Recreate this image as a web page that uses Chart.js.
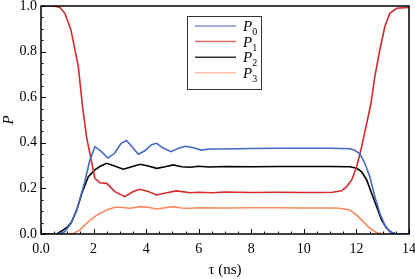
<!DOCTYPE html>
<html>
<head>
<meta charset="utf-8">
<script src="https://cdn.jsdelivr.net/npm/chart.js@4/dist/chart.umd.min.js"></script>
<style>
html,body{margin:0;padding:0;background:#fff;}
#wrap{width:415px;height:279px;}
</style>
</head>
<body>
<div id="wrap"><canvas id="c" width="415" height="279"></canvas></div>
<script>
// ---- data ----
const tP0 = [0,0.6,0.9,1.15,1.4,1.65,1.85,2.05,2.3,2.55,2.8,3.05,3.25,3.45,3.7,3.95,4.2,4.4,4.65,4.95,5.25,5.5,5.8,6.1,6.4,7,8,9,10,11,11.75,11.95,12.13,12.32,12.51,12.7,12.89,13.08,13.27,13.46,14];
const P0  = [0,0,0.01,0.048,0.12,0.222,0.32,0.383,0.361,0.333,0.354,0.398,0.41,0.385,0.35,0.365,0.392,0.398,0.377,0.361,0.377,0.385,0.378,0.368,0.373,0.373,0.375,0.376,0.376,0.376,0.374,0.366,0.352,0.31,0.251,0.164,0.091,0.039,0.01,0.002,0];
const tP1 = [0,0.5,0.72,0.91,1.14,1.42,1.58,1.74,1.9,2.05,2.24,2.5,2.81,3.19,3.51,3.77,4.08,4.4,4.78,5.16,5.67,6,6.5,7,8,9,10,10.6,11.1,11.44,11.63,11.82,12.01,12.2,12.39,12.55,12.7,12.89,13.08,13.27,13.53,14];
const P1  = [1,1,0.994,0.968,0.895,0.734,0.56,0.42,0.33,0.244,0.225,0.222,0.186,0.164,0.186,0.196,0.186,0.171,0.181,0.189,0.181,0.183,0.181,0.184,0.182,0.183,0.182,0.182,0.183,0.19,0.208,0.237,0.295,0.383,0.485,0.57,0.69,0.807,0.909,0.968,0.99,0.994];
const tP2 = [0,0.6,0.85,1.0,1.17,1.36,1.55,1.8,2.05,2.25,2.5,2.8,3.13,3.45,3.77,4.08,4.4,4.72,5.03,5.35,5.67,6,6.4,7,8,9,10,11,11.75,12.01,12.2,12.39,12.58,12.77,12.96,13.15,13.34,13.53,14];
const P2  = [0,0,0.018,0.03,0.054,0.105,0.178,0.251,0.281,0.297,0.31,0.298,0.284,0.295,0.306,0.298,0.288,0.295,0.303,0.295,0.293,0.297,0.294,0.296,0.295,0.296,0.296,0.296,0.295,0.288,0.273,0.237,0.178,0.12,0.061,0.025,0.006,0,0];
const tP3 = [0,1.1,1.25,1.48,1.8,2.12,2.5,2.81,3.0,3.39,3.77,4.08,4.4,4.72,5.03,5.35,5.67,6,7,8,9,10,11,11.37,11.75,12.01,12.26,12.51,12.77,13.0,14];
const P3  = [0,0,0.003,0.018,0.054,0.083,0.105,0.117,0.117,0.113,0.12,0.117,0.11,0.115,0.12,0.114,0.113,0.115,0.114,0.115,0.115,0.114,0.114,0.113,0.105,0.083,0.054,0.025,0.006,0,0];
const seriesNames = ['0','1','2','3'];
const xTicks = [0,2,4,6,8,10,12,14];
const yTicks = [0,0.2,0.4,0.6,0.8,1.0];

const colors = ['#4169c4','#d42a2a','#000000','#fb8a5c'];
const legendColors = ['rgba(65,105,196,0.7)','rgba(212,42,42,0.7)','rgba(0,0,0,0.8)','rgba(251,138,92,0.55)'];
const SERIF = '"Liberation Serif", "DejaVu Serif", serif';

function pts(t, v){ return t.map((x,i)=>({x:x,y:v[i]})); }

const framePlugin = {
  id:'frame',
  afterDraw(chart){
    const ctx = chart.ctx, a = chart.chartArea;
    const xs = chart.scales.x, ys = chart.scales.y;
    ctx.save();
    ctx.strokeStyle = '#000';
    ctx.lineWidth = 1;
    ctx.beginPath();
    for (let v=0; v<=14.001; v+=0.5){
      const px = Math.round(xs.getPixelForValue(v))+0.5;
      const major = Math.abs(v/2 - Math.round(v/2))<1e-6;
      const len = major?5:2.5;
      ctx.moveTo(px, a.bottom); ctx.lineTo(px, a.bottom-len);
    }
    for (let v=0; v<=1.0001; v+=0.05){
      const py = Math.round(ys.getPixelForValue(v))+0.5;
      const major = Math.abs(v/0.2 - Math.round(v/0.2))<1e-6;
      const len = major?5:2.5;
      ctx.moveTo(a.left, py); ctx.lineTo(a.left+len, py);
    }
    ctx.stroke();
    ctx.lineWidth = 1.5;
    ctx.strokeRect(a.left, a.top, a.right-a.left, a.bottom-a.top);
    // legend
    const bx=187.5, by=16.5, bw=74, bh=73;
    ctx.fillStyle='#fff';
    ctx.fillRect(bx,by,bw,bh);
    ctx.lineWidth=1;
    ctx.strokeStyle='#333';
    ctx.strokeRect(bx,by,bw,bh);
    for (let i=0;i<4;i++){
      const y = 26 + i*15.6;
      ctx.strokeStyle = legendColors[i];
      ctx.lineWidth = 1.5;
      ctx.beginPath(); ctx.moveTo(195,y); ctx.lineTo(236,y); ctx.stroke();
      ctx.fillStyle='#000';
      ctx.textBaseline='alphabetic';
      ctx.textAlign='left';
      ctx.font = 'italic 15px '+SERIF;
      ctx.fillText('P', 243, y+5);
      const w = ctx.measureText('P').width;
      ctx.font = '10px '+SERIF;
      ctx.fillText(seriesNames[i], 243+w, y+9);
    }
    ctx.restore();
  }
};

new Chart(document.getElementById('c'), {
  type:'line',
  data:{
    datasets:[
      {label:'P0', data:pts(tP0,P0), borderColor:colors[0]},
      {label:'P1', data:pts(tP1,P1), borderColor:colors[1]},
      {label:'P2', data:pts(tP2,P2), borderColor:colors[2]},
      {label:'P3', data:pts(tP3,P3), borderColor:colors[3]}
    ].map(d=>Object.assign(d,{borderWidth:1.6,pointRadius:0,tension:0,fill:false}))
  },
  options:{
    responsive:false,
    animation:false,
    devicePixelRatio:1,
    layout:{padding:{top:6,right:6,left:0,bottom:0}},
    plugins:{legend:{display:false},tooltip:{enabled:false}},
    scales:{
      x:{
        type:'linear', min:0, max:14,
        afterBuildTicks(s){ s.ticks = xTicks.map(v=>({value:v})); },
        afterFit(s){ s.height = 45; s.paddingLeft=0; s.paddingRight=0; },
        grid:{display:false, drawTicks:false},
        border:{display:false},
        ticks:{padding:7, color:'#000', font:{family:SERIF,size:14}, maxRotation:0,
          callback:(v)=> v===0 ? '0.0' : String(v)},
        title:{display:true, text:'τ (ns)', color:'#000', font:{family:SERIF,size:15}, padding:{top:1,bottom:0}}
      },
      y:{
        type:'linear', min:0, max:1,
        afterBuildTicks(s){ s.ticks = yTicks.map(v=>({value:v})); },
        afterFit(s){ s.width = 41; s.paddingTop=0; s.paddingBottom=0; },
        grid:{display:false, drawTicks:false},
        border:{display:false},
        ticks:{padding:4, color:'#000', font:{family:SERIF,size:14},
          callback:(v)=> Number(v).toFixed(1)},
        title:{display:true, text:'P', color:'#000', font:{family:SERIF,size:15,style:'italic'}, padding:{top:0,bottom:0}}
      }
    }
  },
  plugins:[framePlugin]
});
</script>
</body>
</html>
